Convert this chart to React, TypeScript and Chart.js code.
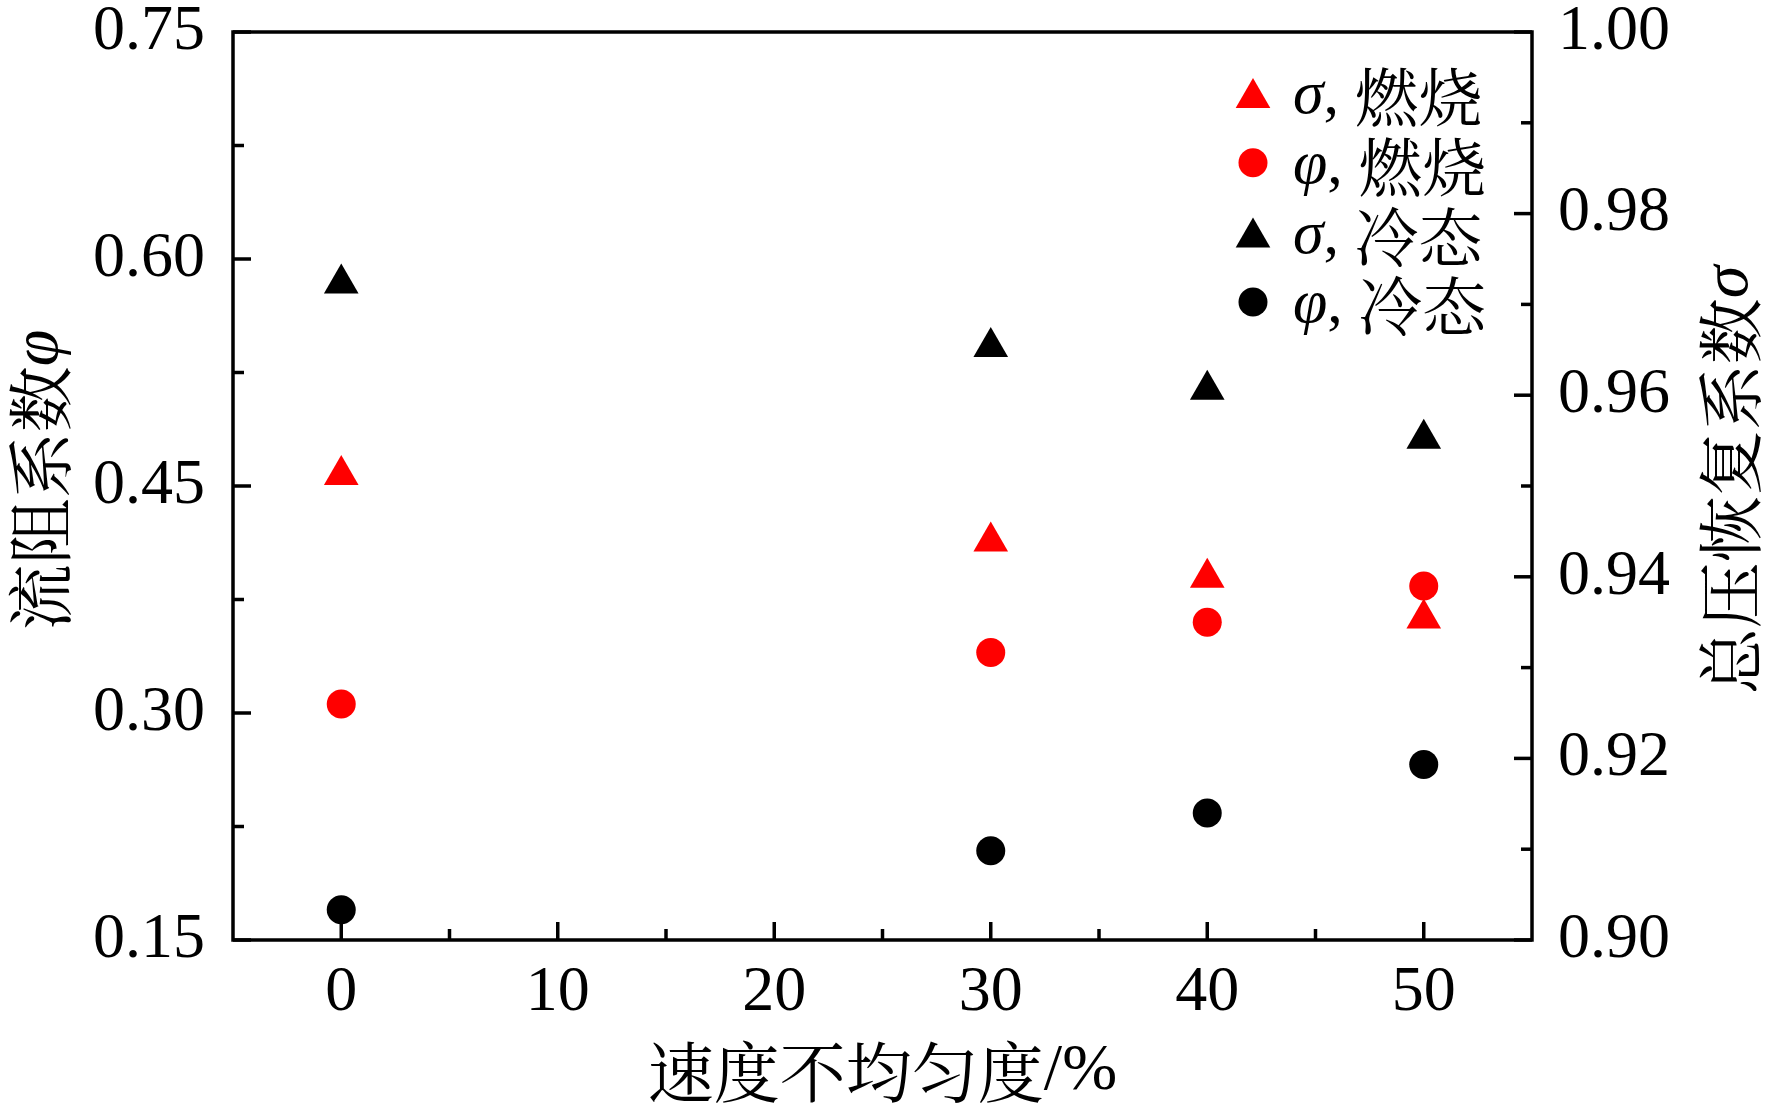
import { useEffect, useRef } from 'react'
import Chart from 'chart.js/auto'
import { drawPoint } from 'chart.js/helpers'

// 速度不均匀度 (%)
const unevenness = [0, 30, 40, 50]
// 总压恢复系数 σ (right axis)
const sigmaBurn = [0.9512, 0.9439, 0.9399, 0.9354]
const sigmaCold = [0.9723, 0.9653, 0.9606, 0.9552]
// 流阻系数 φ (left axis)
const phiBurn = [0.306, 0.340, 0.360, 0.384]
const phiCold = [0.170, 0.209, 0.234, 0.266]

const xTicks = [0, 10, 20, 30, 40, 50]
const xMinor = [5, 15, 25, 35, 45]
const phiTicks = [0.15, 0.30, 0.45, 0.60, 0.75]
const phiMinor = [0.225, 0.375, 0.525, 0.675]
const sigmaTicks = [0.90, 0.92, 0.94, 0.96, 0.98, 1.00]
const sigmaMinor = [0.91, 0.93, 0.95, 0.97, 0.99]

const legendItems = [
  { sym: 'σ', label: '燃烧', color: '#ff0000', style: 'triangle' },
  { sym: 'φ', label: '燃烧', color: '#ff0000', style: 'circle' },
  { sym: 'σ', label: '冷态', color: '#000000', style: 'triangle' },
  { sym: 'φ', label: '冷态', color: '#000000', style: 'circle' },
]

const SERIF = "'Liberation Serif', 'Times New Roman', serif"
const CJK = "'Noto Serif CJK SC', 'Noto Sans CJK SC', sans-serif"
const TRI_R = 20
const DOT_R = 14.5

type Part = { text: string, font: string }

function drawParts(ctx: CanvasRenderingContext2D, parts: Part[], x: number, y: number, center: boolean) {
  let w = 0
  parts.forEach(p => { ctx.font = p.font; w += ctx.measureText(p.text).width })
  let cx = center ? x - w / 2 : x
  ctx.textAlign = 'left'
  ctx.textBaseline = 'middle'
  parts.forEach(p => {
    ctx.font = p.font
    ctx.fillText(p.text, cx, y)
    cx += ctx.measureText(p.text).width
  })
}

const framePlugin = {
  id: 'frame',
  beforeDatasetsDraw(chart: any) {
    const { ctx, chartArea: a, scales } = chart
    ctx.save()
    ctx.strokeStyle = '#000'
    ctx.lineWidth = 3.5
    ctx.strokeRect(a.left, a.top, a.right - a.left, a.bottom - a.top)
    const line = (x1: number, y1: number, x2: number, y2: number) => {
      ctx.beginPath(); ctx.moveTo(x1, y1); ctx.lineTo(x2, y2); ctx.stroke()
    }
    xTicks.forEach(v => { const p = scales.x.getPixelForValue(v); line(p, a.bottom, p, a.bottom - 18) })
    xMinor.forEach(v => { const p = scales.x.getPixelForValue(v); line(p, a.bottom, p, a.bottom - 11) })
    phiTicks.forEach(v => { const p = scales.y.getPixelForValue(v); line(a.left, p, a.left + 18, p) })
    phiMinor.forEach(v => { const p = scales.y.getPixelForValue(v); line(a.left, p, a.left + 11, p) })
    sigmaTicks.forEach(v => { const p = scales.y1.getPixelForValue(v); line(a.right, p, a.right - 18, p) })
    sigmaMinor.forEach(v => { const p = scales.y1.getPixelForValue(v); line(a.right, p, a.right - 11, p) })
    ctx.restore()
  },
  afterDraw(chart: any) {
    const { ctx, chartArea: a } = chart
    ctx.save()
    ctx.fillStyle = '#000'
    const cy = 480
    // x title
    drawParts(ctx, [
      { text: '速度不均匀度', font: `66px ${CJK}` },
      { text: '/%', font: `66px ${SERIF}` },
    ], (a.left + a.right) / 2, 1072, true)
    // left title
    ctx.save()
    ctx.translate(40, cy)
    ctx.rotate(-Math.PI / 2)
    drawParts(ctx, [
      { text: '流阻系数', font: `66px ${CJK}` },
      { text: 'φ', font: `italic 66px ${SERIF}` },
    ], 0, 0, true)
    ctx.restore()
    // right title
    ctx.save()
    ctx.translate(1730, cy)
    ctx.rotate(-Math.PI / 2)
    drawParts(ctx, [
      { text: '总压恢复系数', font: `66px ${CJK}` },
      { text: 'σ', font: `italic 66px ${SERIF}` },
    ], 0, 0, true)
    ctx.restore()
    // legend
    legendItems.forEach((it, i) => {
      const y = 93 + i * 69.7
      const tri = it.style === 'triangle'
      ctx.fillStyle = it.color
      drawPoint(ctx, { pointStyle: it.style, radius: tri ? TRI_R : DOT_R, rotation: 0, borderWidth: 0 } as any,
        1253, tri ? y + TRI_R / 4 : y)
      ctx.fillStyle = '#000'
      drawParts(ctx, [
        { text: it.sym, font: `italic 62px ${SERIF}` },
        { text: ', ', font: `62px ${SERIF}` },
        { text: it.label, font: `64px ${CJK}` },
      ], 1293, y + 4, false)
    })
    ctx.restore()
  },
}

const tickFont = { family: SERIF, size: 64 }

export default function App() {
  const ref = useRef<HTMLCanvasElement | null>(null)
  useEffect(() => {
    if (!ref.current) return
    const ctx = ref.current.getContext('2d')!
    const pts = (ys: number[]) => unevenness.map((x, i) => ({ x, y: ys[i] }))
    const chart = new Chart(ctx, {
      type: 'scatter',
      data: {
        datasets: [
          { label: 'σ, 燃烧', data: pts(sigmaBurn), yAxisID: 'y1', pointStyle: 'triangle', pointRadius: TRI_R, backgroundColor: '#ff0000', pointBorderWidth: 0 },
          { label: 'φ, 燃烧', data: pts(phiBurn), yAxisID: 'y', pointStyle: 'circle', pointRadius: DOT_R, backgroundColor: '#ff0000', pointBorderWidth: 0 },
          { label: 'σ, 冷态', data: pts(sigmaCold), yAxisID: 'y1', pointStyle: 'triangle', pointRadius: TRI_R, backgroundColor: '#000000', pointBorderWidth: 0 },
          { label: 'φ, 冷态', data: pts(phiCold), yAxisID: 'y', pointStyle: 'circle', pointRadius: DOT_R, backgroundColor: '#000000', pointBorderWidth: 0 },
        ],
      },
      options: {
        responsive: true,
        maintainAspectRatio: false,
        animation: false,
        layout: { padding: { top: 32, left: 0, right: 0, bottom: 0 } },
        plugins: { legend: { display: false }, tooltip: { enabled: false } },
        scales: {
          x: {
            type: 'linear', min: -5, max: 55,
            grid: { display: false, drawTicks: false }, border: { display: false },
            afterBuildTicks: (s: any) => { s.ticks = xTicks.map(value => ({ value })) },
            afterFit: (s: any) => { s.height = 175; s.paddingLeft = 0; s.paddingRight = 0 },
            ticks: { font: tickFont, color: '#000', padding: 15, maxRotation: 0, callback: (v: any) => String(v) },
          },
          y: {
            type: 'linear', position: 'left', min: 0.15, max: 0.75,
            grid: { display: false, drawTicks: false }, border: { display: false },
            afterBuildTicks: (s: any) => { s.ticks = phiTicks.map(value => ({ value })) },
            afterFit: (s: any) => { s.width = 233; s.paddingTop = 0; s.paddingBottom = 0 },
            ticks: { font: tickFont, color: '#000', padding: 28, callback: (v: any) => Number(v).toFixed(2) },
          },
          y1: {
            type: 'linear', position: 'right', min: 0.9, max: 1.0,
            grid: { display: false, drawTicks: false }, border: { display: false },
            afterBuildTicks: (s: any) => { s.ticks = sigmaTicks.map(value => ({ value })) },
            afterFit: (s: any) => { s.width = 240; s.paddingTop = 0; s.paddingBottom = 0 },
            ticks: { font: tickFont, color: '#000', padding: 26, callback: (v: any) => Number(v).toFixed(2) },
          },
        },
      },
      plugins: [framePlugin],
    })
    document.fonts?.ready.then(() => chart.update())
    return () => chart.destroy()
  }, [])
  return (
    <div style={{ position: 'absolute', left: 0, top: 0, width: 1772, height: 1115, background: '#fff' }}>
      <canvas ref={ref} />
    </div>
  )
}
